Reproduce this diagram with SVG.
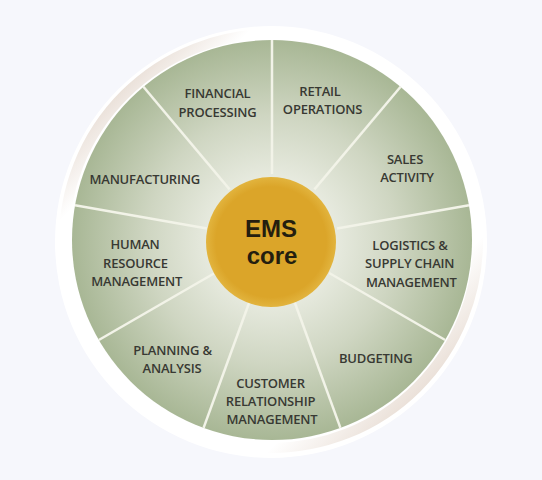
<svg xmlns="http://www.w3.org/2000/svg" width="542" height="480" viewBox="0 0 542 480">
  <defs>
    <radialGradient id="greenGrad" cx="272" cy="240" r="200" gradientUnits="userSpaceOnUse">
      <stop offset="0.3" stop-color="#e8ebe0"/>
      <stop offset="0.62" stop-color="#cfd6c2"/>
      <stop offset="1" stop-color="#a8b795"/>
    </radialGradient>
    <linearGradient id="rimGrad" x1="0" y1="0" x2="1" y2="1">
      <stop offset="0" stop-color="#c9b09c"/>
      <stop offset="0.22" stop-color="#ffffff"/>
      <stop offset="0.75" stop-color="#ffffff"/>
      <stop offset="1" stop-color="#d2bcaa"/>
    </linearGradient>
    <radialGradient id="goldGrad" cx="0.5" cy="0.5" r="0.5">
      <stop offset="0.85" stop-color="#dba529"/>
      <stop offset="1" stop-color="#e2b43e"/>
    </radialGradient>
    <style>
      .lbl { font-family: "Open Sans", "Noto Sans", sans-serif; font-size: 13px; font-weight: 600; fill: #383933; text-anchor: middle; letter-spacing: -0.2px; }
      .core { font-family: "Liberation Sans", Arial, sans-serif; font-size: 24px; font-weight: 700; fill: #241e0f; text-anchor: middle; }
      .spoke { stroke: #f2f3e8; stroke-width: 2.5; fill: none; }
    </style>
  </defs>
  <rect width="542" height="480" fill="#f6f7fc"/>
  <circle cx="271" cy="242" r="216" fill="#ffffff"/>
  <circle cx="271" cy="241" r="207" fill="none" stroke="url(#rimGrad)" stroke-width="10"/>
  <circle id="disk" cx="272" cy="240" r="200" fill="url(#greenGrad)"/>

  <g id="connectors">
    <line class="spoke" x1="272" y1="174" x2="272" y2="40"/>
    <line class="spoke" x1="314.4" y1="189.4" x2="400.6" y2="86.8"/>
    <line class="spoke" x1="337" y1="228.5" x2="469" y2="205.3"/>
    <line class="spoke" x1="329.2" y1="273" x2="445.2" y2="340"/>
    <line class="spoke" x1="294.6" y1="302" x2="340.4" y2="427.9"/>
    <line class="spoke" x1="249.4" y1="302" x2="203.6" y2="427.9"/>
    <line class="spoke" x1="214.8" y1="273" x2="98.8" y2="340"/>
    <line class="spoke" x1="207" y1="228.5" x2="75" y2="205.3"/>
    <line class="spoke" x1="229.6" y1="189.4" x2="143.4" y2="86.8"/>
  </g>

  <g id="ems-core">
    <circle cx="271" cy="242" r="65" fill="url(#goldGrad)"/>
    <text class="core" x="271" y="236.5">EMS</text>
    <text class="core" x="272" y="264">core</text>
  </g>
  <g id="financial-processing">
    <text class="lbl" x="217.5" y="98.3">FINANCIAL</text>
    <text class="lbl" x="217.5" y="116.7">PROCESSING</text>
  </g>
  <g id="retail-operations">
    <text class="lbl" x="320" y="96">RETAIL</text>
    <text class="lbl" x="322.5" y="114.3">OPERATIONS</text>
  </g>
  <g id="sales-activity">
    <text class="lbl" x="405" y="164">SALES</text>
    <text class="lbl" x="407" y="182.3">ACTIVITY</text>
  </g>
  <g id="logistics">
    <text class="lbl" x="410" y="250">LOGISTICS &amp;</text>
    <text class="lbl" x="409.7" y="268.3">SUPPLY CHAIN</text>
    <text class="lbl" x="411.3" y="286.7">MANAGEMENT</text>
  </g>
  <g id="budgeting">
    <text class="lbl" x="375.8" y="363.3">BUDGETING</text>
  </g>
  <g id="crm">
    <text class="lbl" x="270.5" y="387.7">CUSTOMER</text>
    <text class="lbl" x="270.5" y="406">RELATIONSHIP</text>
    <text class="lbl" x="272" y="424.3">MANAGEMENT</text>
  </g>
  <g id="planning-analysis">
    <text class="lbl" x="172.5" y="355">PLANNING &amp;</text>
    <text class="lbl" x="172" y="373.3">ANALYSIS</text>
  </g>
  <g id="hrm">
    <text class="lbl" x="135" y="249.3">HUMAN</text>
    <text class="lbl" x="135.5" y="267.7">RESOURCE</text>
    <text class="lbl" x="136.7" y="286">MANAGEMENT</text>
  </g>
  <g id="manufacturing">
    <text class="lbl" x="144.7" y="184">MANUFACTURING</text>
  </g>
</svg>
